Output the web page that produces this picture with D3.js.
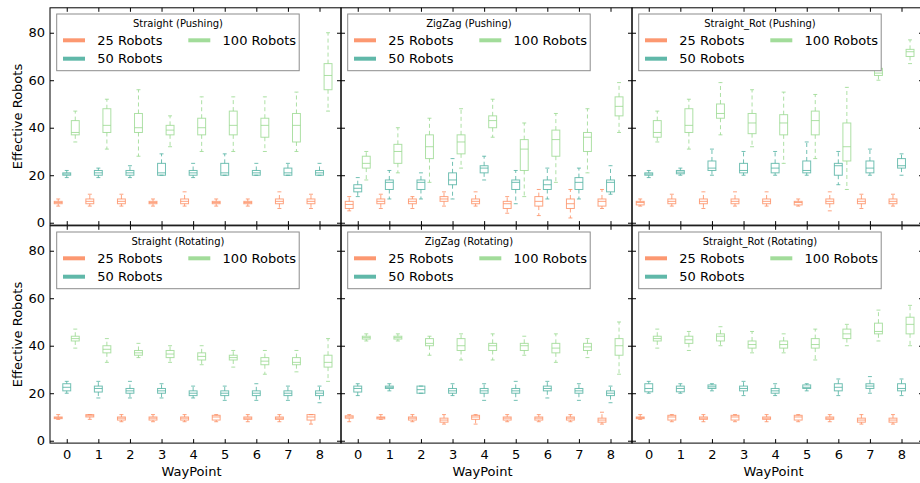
<!DOCTYPE html>
<html>
<head>
<meta charset="utf-8">
<script src="https://cdn.jsdelivr.net/npm/d3@7"></script>
<style>
  html, body { margin: 0; padding: 0; background: #fff; }
  svg { display: block; font-family: "DejaVu Sans", sans-serif; }
</style>
</head>
<body>
<svg id="chart" width="920" height="483"></svg>
<script>
// ---------------- DATA ----------------
const waypoints = [0, 1, 2, 3, 4, 5, 6, 7, 8];
const seriesNames = ["25 Robots", "50 Robots", "100 Robots"];
const seriesColors = ["#fc8d62", "#4fb0a0", "#98d88f"];
const yTicks = [0, 20, 40, 60, 80];
const panelTitles = [
  "Straight (Pushing)", "ZigZag (Pushing)", "Straight_Rot (Pushing)",
  "Straight (Rotating)", "ZigZag (Rotating)", "Straight_Rot (Rotating)"
];
// each entry: [whiskerLow, q1, median, q3, whiskerHigh]
const straightPush25 = [[7,8,8.5,9,10],[7,8,9,10,12],[7,8,9,10,12],[7,8,8.5,9,10],[7,8,9,10,13],[7,8,8.5,9,10],[7,8,8.5,9,10],[6,8,9,10,13],[6,8,9,10,12]];
const straightPush50 = [[19,20,20.5,21,22],[19,20,21,22,23],[19,20,21,22,24],[20,20,21,25,29],[19,20,21,22,25],[20,20,21,25,29],[20,20,21,22,25],[20,20,21,23,25],[20,20,21,22,25]];
const straightPush100 = [[34,37,38,43,47],[31,38,41,48,52],[28,38,40,46,56],[32,37,39,41,45],[30,37,40,44,53],[30,37,41,47,53],[30,36,41,44,53],[30,34,41,46,55],[47,56,62,67,80]];

const zigzagPush25 = [[5,6,7.7,9,11],[6,8,9,10,12],[6,8,9,10,11],[7,9,10,11,13],[7,8,9,10,13],[4,6,8,9,11],[3,7,9,11,14],[2,6,8,10,14],[6,7,9,10,14]];
const zigzagPush50 = [[11,13,14.5,16,19],[10,14,17,18,22],[10,14,17,18,21],[10,16,18,21,27],[18,21,23,24,28],[8,14,17,18,22],[10,14,16,18,23],[10,14,17,19,23],[12,13,17,18,24]];
const zigzagPush100 = [[18,23,25,28,30],[21,25,30,33,40],[17,27,32,37,44],[23,29,34,37,48],[36,40,43,45,52],[11,22,31,35,42],[17,28,35,39,46],[21,30,36,38,48],[38,45,49,53,59]];

const straightRotPush25 = [[7,7.5,8.5,9,10],[7,8,9,10,12],[6,8,9,10,13],[7,8,9,10,13],[7,8,9,10,13],[7,7.5,8.5,9,10],[5,8,9,10,13],[6,8,9,10,12],[7,8,9,10,12]];
const straightRotPush50 = [[19,20,20.5,21,22],[20,20.6,21.3,22,23],[20,22,23,26,31],[20,21,22,25,30],[20,21,23,25,30],[20,21,22,26,34],[16,20,24,25,30],[20,21,23,26,31],[20,23,24,27,29]];
const straightRotPush100 = [[34,36,38,43,47],[31,38,41,48,52],[37,44,46,50,59],[32,37.5,42,46,56],[25,37,42,45.5,55],[27,37,43,47,54],[14,26,32,42,57],[60,62,63,65,68],[67,70,72,73,77]];

const straightRot25 = [[9,9.3,9.7,10,11],[9,10,10.5,11,11],[8,8.7,9.5,10,11],[8,8.7,9.5,10,11],[8,8.7,9.5,10,11],[8,8.7,10,10.7,11],[8,9,9.5,10,11],[8,9,9.5,10,11],[7,8.7,10,11,11]];
const straightRot50 = [[20,21,22.5,24,25],[18,20.5,22,23,25],[18,20,21,22,25],[18,20,21,22,24],[18,19,20,21,23],[17,19,20,21,23],[17,19,20,21,24],[17,19,20,21,23],[16,19,20,21,23]];
const straightRot100 = [[39,42,43,44,47],[33,37,38.5,40,43],[35,36,37,38,41],[33,35,36.5,38,40],[32,34,35.5,37,40],[31,34,35,36,38],[28,32,33.5,35,38],[29,32,33,35,38],[25,31,33,36,43]];

const zigzagRot25 = [[8,9.5,10,10.5,11],[9,9.2,9.7,10,11],[8,8.7,9.5,10,11],[7,7.8,8.7,9.5,11],[7,9,10,10.7,11],[8,8.7,9.5,10,11],[8,8.7,9.5,10,11],[8,8.7,9.5,10,11],[7,7.8,8.7,9.5,12]];
const zigzagRot50 = [[19,20.5,22,23,24],[21,22,22.5,23,24],[20,20,21.5,23,23],[19,20,21,22,24],[17,20,21,22,24],[17,20,21,22,25],[18,21,22,23,25],[17,20,21,22,24],[16,19,20,21,23]];
const zigzagRot100 = [[42,42.8,43.4,44,45],[42,42.8,43.4,44,45],[36,40,41,43,44],[34,38,40,43,45],[34,38,40,41,45],[36,38,40,41,44],[33,37,39,41,45],[35,38,39.5,41,43],[28,36,40,43,50]];

const straightRotRot25 = [[9,9.3,9.7,10,11],[8,8.7,10,10.7,11],[8,9,9.5,10,11],[8,8.7,10,10.7,11],[8,9,9.5,10,11],[8,8.7,10,10.7,11],[8,9,9.5,10,11],[7,7.8,8.7,9.5,11],[7,7.8,8.7,9.5,11]];
const straightRotRot50 = [[20,20.6,22,24,25],[20,20.6,22,23,24],[21,22,22.7,23.5,24],[19,21,22,23,25],[19,20,21,22,24],[21,22,22.5,23.5,24],[19,21,22.5,24,26],[20,22,23,24,27],[19,21,22,24,26]];
const straightRotRot100 = [[39,42,43,44,47],[38,41,42.5,44,46],[40,42,44,45,48],[37,39,40.5,42,46],[37,39,40.5,42,45],[34,39,40.5,43,47],[40,43,45,47,49],[42,45,46,49.5,55],[40,45,49,52,57]];

const panelData = [
  [straightPush25, straightPush50, straightPush100],
  [zigzagPush25, zigzagPush50, zigzagPush100],
  [straightRotPush25, straightRotPush50, straightRotPush100],
  [straightRot25, straightRot50, straightRot100],
  [zigzagRot25, zigzagRot50, zigzagRot100],
  [straightRotRot25, straightRotRot50, straightRotRot100]
];

// ---------------- LAYOUT ----------------
const svg = d3.select("#chart");
const panelLefts = [50, 341, 632];
const panelW = 291;
const rowRanges = [[225.1, 7.8], [443.1, 225.8]];
const xDomain = [-0.53, 8.68];
const yDomain = [-1, 90.5];
const offsets = [-0.27, 0, 0.27];
const boxW = 0.25;

panelData.forEach((pd, pi) => {
  const col = pi % 3, row = Math.floor(pi / 3);
  const left = panelLefts[col];
  const x = d3.scaleLinear().domain(xDomain).range([left, left + panelW]);
  const y = d3.scaleLinear().domain(yDomain).range(rowRanges[row]);
  const top = rowRanges[row][1], bottom = rowRanges[row][0];
  const g = svg.append("g");

  // boxes
  pd.forEach((series, si) => {
    const color = seriesColors[si];
    const sg = g.append("g").attr("stroke", color).attr("fill", "none")
      .attr("stroke-width", 1).attr("stroke-opacity", 0.8);
    series.forEach((s, wi) => {
      const cx = x(waypoints[wi] + offsets[si]);
      const hw = (x(boxW) - x(0)) / 2;
      const cw = hw / 2;
      const [lo, q1, med, q3, hi] = s;
      // whiskers (dashed)
      sg.append("line").attr("x1", cx).attr("x2", cx).attr("y1", y(q3)).attr("y2", y(hi))
        .attr("stroke-dasharray", "4,3");
      sg.append("line").attr("x1", cx).attr("x2", cx).attr("y1", y(q1)).attr("y2", y(lo))
        .attr("stroke-dasharray", "4,3");
      // caps
      sg.append("line").attr("x1", cx - cw).attr("x2", cx + cw).attr("y1", y(hi)).attr("y2", y(hi));
      sg.append("line").attr("x1", cx - cw).attr("x2", cx + cw).attr("y1", y(lo)).attr("y2", y(lo));
      // box
      sg.append("rect").attr("x", cx - hw).attr("width", 2 * hw)
        .attr("y", y(q3)).attr("height", Math.max(0.5, y(q1) - y(q3)));
      // median
      sg.append("line").attr("x1", cx - hw).attr("x2", cx + hw).attr("y1", y(med)).attr("y2", y(med));
    });
  });

  // axes: ticks inward on all four sides
  const axL = d3.axisLeft(y).tickValues(yTicks).tickSize(-4).tickPadding(5)
    .tickFormat(col === 0 ? d3.format("d") : () => "");
  const axR = d3.axisRight(y).tickValues(yTicks).tickSize(-4).tickFormat(() => "");
  const axB = d3.axisBottom(x).tickValues(waypoints).tickSize(-4).tickPadding(7)
    .tickFormat(row === 1 ? d3.format("d") : () => "");
  const axT = d3.axisTop(x).tickValues(waypoints).tickSize(-4).tickFormat(() => "");
  [[axL, `translate(${left},0)`], [axR, `translate(${left + panelW},0)`],
   [axB, `translate(0,${bottom})`], [axT, `translate(0,${top})`]].forEach(([ax, tr]) => {
    const a = g.append("g").attr("transform", tr).call(ax);
    a.select(".domain").remove();
    a.selectAll("line").attr("stroke", "#000");
    a.selectAll("text").attr("font-size", 13).attr("fill", "#000")
      .attr("font-family", "DejaVu Sans, sans-serif");
  });

  // spines
  g.append("rect").attr("x", left).attr("y", top).attr("width", panelW).attr("height", bottom - top)
    .attr("fill", "none").attr("stroke", "#000").attr("stroke-width", 1);

  // legend
  const lx = left + 6.7, ly = top + 6.2, lw = 242.5, lh = 56.7;
  const lg = g.append("g");
  lg.append("rect").attr("x", lx).attr("y", ly).attr("width", lw).attr("height", lh)
    .attr("fill", "#fff").attr("stroke", "#8c8c8c").attr("stroke-width", 1);
  lg.append("text").attr("x", lx + lw / 2).attr("y", ly + 9.7).attr("dy", "0.35em")
    .attr("text-anchor", "middle").attr("font-size", 10).text(panelTitles[pi]);
  const entryPos = [[0, 0], [0, 1], [1, 0]];
  seriesNames.forEach((name, si) => {
    const [c, r] = entryPos[si];
    const hx = lx + 6.3 + c * 125.3;
    const hy = ly + 26.3 + r * 18.4;
    lg.append("line").attr("x1", hx).attr("x2", hx + 22).attr("y1", hy).attr("y2", hy)
      .attr("stroke", seriesColors[si]).attr("stroke-width", 4).attr("stroke-opacity", 0.9);
    lg.append("text").attr("x", hx + 34.3).attr("y", hy).attr("dy", "0.35em")
      .attr("font-size", 13).text(name);
  });
});

// axis titles
svg.append("text").attr("transform", "translate(17,116.5) rotate(-90)").attr("dy", "0.35em")
  .attr("text-anchor", "middle").attr("font-size", 13).text("Effective Robots");
svg.append("text").attr("transform", "translate(17,334.5) rotate(-90)").attr("dy", "0.35em")
  .attr("text-anchor", "middle").attr("font-size", 13).text("Effective Robots");
panelLefts.forEach(l => {
  svg.append("text").attr("x", l + panelW / 2 - 4).attr("y", 476)
    .attr("text-anchor", "middle").attr("font-size", 13).text("WayPoint");
});
</script>
</body>
</html>
